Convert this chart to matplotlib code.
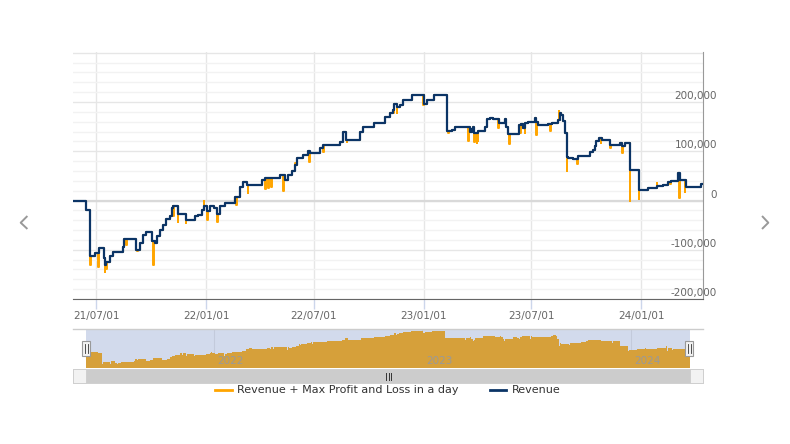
import numpy as np
import matplotlib.pyplot as plt
import matplotlib.dates as mdates
from matplotlib.patches import Rectangle
from matplotlib.lines import Line2D

W, H = 790, 444

# data: days since 2021-07-01 where the step value changes, value in thousands
rev_day = [-39, -18, -11, -3, 4, 12, 14, 16, 22, 27, 44, 47, 66, 73, 78, 83, 94, 98, 102, 107,
           112, 116, 123, 126, 128, 137, 151, 165, 171, 177, 180, 186, 191, 197, 202, 207, 216, 233, 241, 246,
           252, 277, 283, 308, 316, 322, 328, 333, 337, 347, 355, 358, 375, 381, 408, 414, 419, 442, 447, 465,
           484, 492, 498, 500, 505, 509, 515, 529, 550, 554, 567, 589, 596, 601, 627, 630, 632, 634, 638, 640,
           652, 656, 660, 666, 676, 685, 688, 691, 709, 713, 716, 719, 724, 736, 738, 741, 758, 764, 775, 778,
           780, 783, 786, 789, 792, 800, 808, 828, 834, 836, 839, 844, 848, 862, 878, 882, 887, 895, 910, 925,
           940, 951, 960, 965, 976, 979, 989, 1015, 1018]
rev_k = [0, -19, -113, -107, -97, -117, -130, -124, -113, -105, -94, -79, -100, -86, -70, -63, -83, -86, -73, -59,
         -49, -38, -32, -15, -12, -27, -39, -32, -29, -19, -12, -22, -12, -16, -27, -12, -5, 8, 28, 38,
         32, 42, 45, 52, 42, 52, 59, 72, 86, 93, 100, 97, 106, 113, 118, 140, 122, 140, 149, 157,
         170, 178, 184, 196, 190, 194, 204, 214, 196, 204, 214, 142, 143, 149, 140, 145, 150, 138, 137, 142,
         149, 165, 167, 165, 157, 165, 150, 135, 153, 156, 147, 157, 160, 167, 160, 153, 156, 157, 164, 177,
         174, 162, 137, 89, 86, 84, 91, 99, 103, 110, 120, 127, 123, 113, 116, 110, 116, 62, 22, 25,
         30, 32, 38, 40, 55, 42, 27, 34, 34]

# days where revenue + max P&L moves away from revenue (thousands)
spike_day = [-11, 3, 14, 16, 50, 68, 95, 129, 136, 150, 180, 186, 203, 235, 254, 283, 288, 293, 313, 334,
             357, 381, 420, 498, 504, 548, 590, 624, 634, 638, 640, 674, 693, 711, 719, 738, 762, 776, 789, 807,
             846, 862, 882, 895, 910, 940, 963, 978, 987]
spike_k = [-130, -135, -146, -139, -90, -102, -130, -31, -43, -46, -2, -40, -44, -9, 15, 23, 25, 27, 20, 77,
           78, 98, 118, 177, 177, 194, 137, 121, 118, 117, 120, 147, 115, 137, 137, 134, 142, 181, 59, 75,
           116, 106, 96, 0, 4, 35, 34, 5, 18]

tick_dates = ['2021-07-01', '2022-01-01', '2022-07-01', '2023-01-01', '2023-07-01', '2024-01-01']
tick_labels = ['21/07/01', '22/01/01', '22/07/01', '23/01/01', '23/07/01', '24/01/01']
year_dates = ['2022-01-01', '2023-01-01', '2024-01-01']
year_labels = ['2022', '2023', '2024']
y_ticks = [-200000, -100000, 0, 100000, 200000]
y_labels = ['-200,000', '-100,000', '0', '100,000', '200,000']

series_names = ['Revenue + Max Profit and Loss in a day', 'Revenue']
orange = '#FFA500'
navy = '#0b3466'

t0 = mdates.date2num(np.datetime64('2021-07-01'))
rev_day = np.array(rev_day)
rev_val = np.array(rev_k) * 1000.0


def rev_at(d):
    return rev_val[np.searchsorted(rev_day, d, side='right') - 1]


pts = dict(zip(rev_day.tolist(), rev_val.tolist()))
for d, v in zip(spike_day, spike_k):
    nxt = rev_at(d + 1)
    pts[d] = v * 1000.0
    pts.setdefault(d + 1, nxt)
o_day = np.array(sorted(pts))
o_val = np.array([pts[d] for d in o_day])


def fx(x):
    return x / W


def fy(y):
    return 1 - y / H


fig = plt.figure(figsize=(W / 100, H / 100), dpi=100)

ax = fig.add_axes([fx(73), fy(299), 630 / W, 247 / H])
ax.plot(t0 + o_day, o_val, drawstyle='steps-post', color=orange, lw=1.4, zorder=3)
ax.plot(t0 + rev_day, rev_val, drawstyle='steps-post', color=navy, lw=1.6, zorder=4)

ax.set_xlim(t0 - 39.4, t0 + 1018)
ax.set_ylim(-200000, 301600)
ax.set_yticks(np.arange(-200000, 300001, 100000))
ax.set_yticks(np.arange(-200000, 300001, 20000), minor=True)
ax.grid(which='major', axis='y', color='#e6e6e6', lw=1)
ax.grid(which='minor', axis='y', color='#f2f2f2', lw=1)
ax.axhline(0, color='#d9d9d9', lw=1.6, zorder=1)
ax.tick_params(axis='y', which='both', left=False, right=False, labelleft=False)

ticks = [mdates.date2num(np.datetime64(d)) for d in tick_dates]
ax.set_xticks(ticks)
ax.set_xticklabels(tick_labels)
ax.grid(which='major', axis='x', color='#e6e6e6', lw=1)
ax.tick_params(axis='x', length=7, width=1, color='#ccd6eb', labelcolor='#666666', labelsize=7.5, pad=2)
ax.set_axisbelow(True)
for s in ['top', 'left']:
    ax.spines[s].set_visible(False)
ax.spines['bottom'].set_color('#666666')
ax.spines['right'].set_color('#999999')

for v, lab in zip(y_ticks, y_labels):
    ax.annotate(lab, xy=(1, v), xycoords=('axes fraction', 'data'), xytext=(14, 6),
                textcoords='offset pixels', ha='right', va='center', fontsize=7.5, color='#666666')

# navigator
nav = fig.add_axes([fx(86), fy(368), 604 / W, 39 / H])
nav.set_facecolor('#d2daec')
nav.fill_between(t0 + o_day, o_val, -172000, step='post', color='#d6a03a', lw=0, zorder=2)
nav.set_xlim(t0 - 39.4, t0 + 1018)
nav.set_ylim(-172000, 239000)
for d, lab in zip(year_dates, year_labels):
    xd = mdates.date2num(np.datetime64(d))
    nav.axvline(xd, color='#c3cadb', lw=0.8, zorder=1)
    nav.annotate(lab, xy=(xd, 0.18), xycoords=('data', 'axes fraction'), xytext=(4, 0),
                 textcoords='offset pixels', ha='left', va='center', fontsize=7.5, color='#999999', zorder=3)
nav.set_xticks([])
nav.set_yticks([])
for s in nav.spines.values():
    s.set_visible(False)

fig.add_artist(Line2D([fx(73), fx(703)], [fy(329), fy(329)], color='#cccccc', lw=1))

# navigator handles
for hx in [86, 689]:
    fig.add_artist(Rectangle((fx(hx - 4), fy(356)), 8 / W, 15 / H, facecolor='#f2f2f2',
                             edgecolor='#999999', lw=0.8, zorder=5))
    for lx in [hx - 1.5, hx + 1.5]:
        fig.add_artist(Line2D([fx(lx), fx(lx)], [fy(344), fy(353)], color='#333333', lw=0.6, zorder=6))

# scrollbar
fig.add_artist(Rectangle((fx(73), fy(383)), 630 / W, 14 / H, facecolor='#cccccc', edgecolor='#cccccc', lw=0.6))
for bx, d in [(73, -1), (690, 1)]:
    fig.add_artist(Rectangle((fx(bx), fy(383)), 13 / W, 14 / H, facecolor='#f2f2f2',
                             edgecolor='#cccccc', lw=0.6, zorder=3))
    cx = bx + 6.5
    tri = plt.Polygon([[fx(cx + 2 * d), fy(376)], [fx(cx - 2 * d), fy(373)], [fx(cx - 2 * d), fy(379)]],
                      closed=True, facecolor='#333333', edgecolor='none', transform=fig.transFigure)
    fig.add_artist(tri)
for gx in [386, 388.5, 391]:
    fig.add_artist(Line2D([fx(gx), fx(gx)], [fy(372.5), fy(379.5)], color='#333333', lw=0.7, zorder=4))

# legend
fig.add_artist(Line2D([fx(215), fx(232)], [fy(390), fy(390)], color=orange, lw=2))
fig.text(fx(237), fy(390), series_names[0], ha='left', va='center', fontsize=8, color='#333333')
fig.add_artist(Line2D([fx(490), fx(506)], [fy(390), fy(390)], color=navy, lw=2))
fig.text(fx(512), fy(390), series_names[1], ha='left', va='center', fontsize=8, color='#333333')

# carousel arrows
fig.add_artist(Line2D([fx(26.7), fx(20.7), fx(26.7)], [fy(216.7), fy(222.7), fy(228.3)], color='#999999', lw=1.4))
fig.add_artist(Line2D([fx(762.7), fx(768.3), fx(762.7)], [fy(216.7), fy(222.7), fy(228.3)], color='#999999', lw=1.4))

fig.savefig('out.png', dpi=100)
